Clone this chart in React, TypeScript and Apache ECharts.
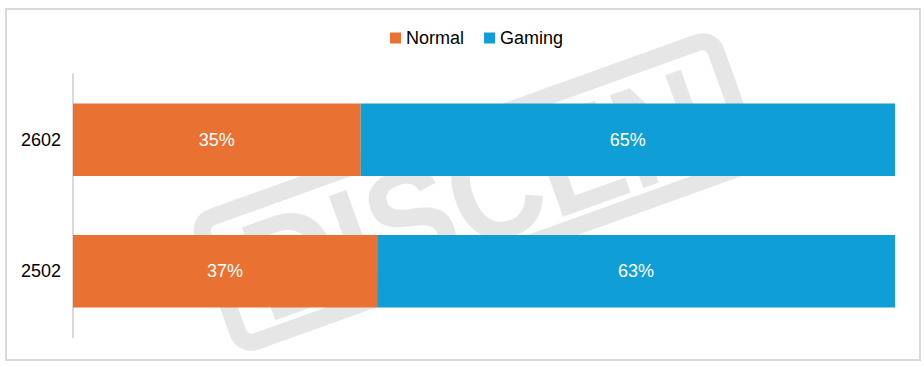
import React, { useEffect, useRef } from "react";
import * as echarts from "echarts";

const categories = ["2502", "2602"];
const normalValues = [37, 35];
const gamingValues = [63, 65];
const seriesNames = ["Normal", "Gaming"];

const FONT = "'Liberation Sans', Arial, sans-serif";
const WM = "rgba(84,84,84,0.15)";

export default function App() {
  const ref = useRef<HTMLDivElement>(null);
  useEffect(() => {
    if (!ref.current) return;
    const chart = echarts.init(ref.current, undefined, { renderer: "svg" });
    const label = {
      show: true,
      position: "inside",
      color: "#ffffff",
      fontSize: 18,
      fontFamily: FONT,
      formatter: (p: any) => `${p.value}%`,
    };
    chart.setOption({
      animation: false,
      backgroundColor: "#ffffff",
      textStyle: { fontFamily: FONT },
      legend: {
        data: seriesNames,
        left: 390,
        top: 29,
        padding: 0,
        itemWidth: 11,
        itemHeight: 11,
        itemGap: 20,
        icon: "rect",
        textStyle: { fontSize: 18, color: "#000000", fontFamily: FONT, lineHeight: 18 },
      },
      grid: { left: 73, right: 29, top: 74, bottom: 29, containLabel: false },
      xAxis: {
        type: "value",
        min: 0,
        max: 100,
        show: false,
      },
      yAxis: {
        type: "category",
        data: categories,
        axisLine: { show: true, lineStyle: { color: "#d9d9d9", width: 2 } },
        axisTick: { show: false },
        axisLabel: { fontSize: 18, color: "#000000", margin: 12, fontFamily: FONT },
        splitLine: { show: false },
      },
      series: [
        {
          name: seriesNames[0],
          type: "bar",
          stack: "total",
          data: normalValues,
          barWidth: "55%",
          itemStyle: { color: "#E97132" },
          label,
        },
        {
          name: seriesNames[1],
          type: "bar",
          stack: "total",
          data: gamingValues,
          barWidth: "55%",
          itemStyle: { color: "#0F9ED5" },
          label,
        },
      ],
      graphic: [
        {
          type: "rect",
          z: 100,
          shape: { x: 6, y: 9, width: 914, height: 351 },
          style: { fill: "none", stroke: "#d9d9d9", lineWidth: 2 },
        },
        {
          type: "group",
          x: 477,
          y: 192,
          rotation: 0.345,
          z: 50,
          children: [
            {
              type: "rect",
              shape: { x: -272.5, y: -66, width: 545, height: 132, r: 14 },
              style: { fill: "none", stroke: WM, lineWidth: 17 },
            },
            {
              type: "text",
              x: 0,
              y: 3,
              scaleY: 1.12,
              style: {
                text: "DISCEN",
                fill: WM,
                font: `bold 128px ${FONT}`,
                align: "center",
                verticalAlign: "middle",
              },
            },
          ],
        },
      ],
    });
    return () => chart.dispose();
  }, []);
  return (
    <div
      ref={ref}
      style={{ position: "fixed", left: 0, top: 0, width: 924, height: 366 }}
    />
  );
}
